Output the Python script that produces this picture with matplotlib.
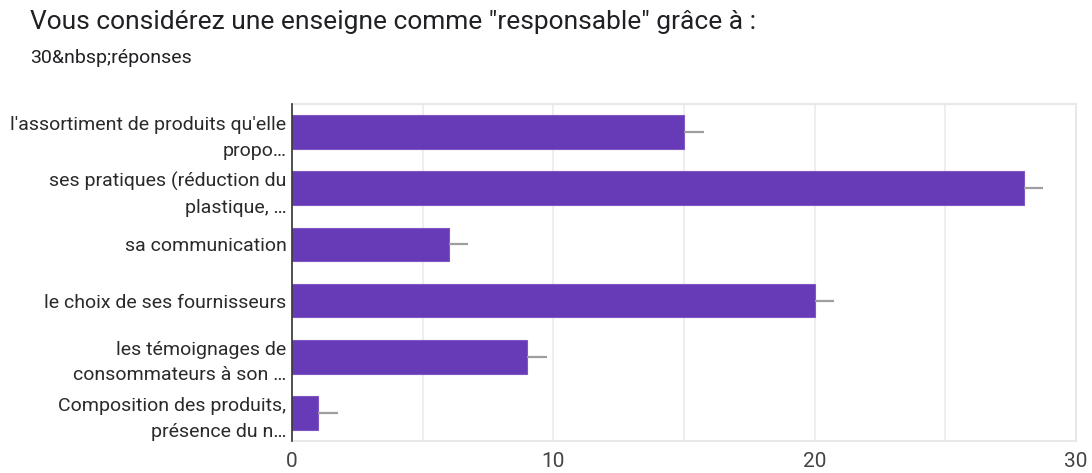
import matplotlib
matplotlib.use('Agg')
import matplotlib.pyplot as plt
from matplotlib.ticker import MultipleLocator

plt.rcParams['font.family'] = ['Roboto', 'DejaVu Sans']

title = 'Vous considérez une enseigne comme "responsable" grâce à :'
subtitle = '30&nbsp;réponses'

categories = [
    "l'assortiment de produits qu'elle\npropo…",
    "ses pratiques (réduction du\nplastique, …",
    "sa communication",
    "le choix de ses fournisseurs",
    "les témoignages de\nconsommateurs à son …",
    "Composition des produits,\nprésence du n…",
]
counts = [15, 28, 6, 20, 9, 1]
err_right = [0.75, 0.75, 0.75, 0.75, 0.75, 0.75]

barColor = '#673ab7'

fig = plt.figure(figsize=(10.92, 4.73), dpi=100)
ax = fig.add_axes([0.2674, 0.0677, 0.7179, 0.7123])

ypos = list(range(len(categories)))
ax.barh(ypos, counts, height=0.6, color=barColor, edgecolor='#7e57c2', linewidth=0.8, zorder=3,
        xerr=[[0] * len(counts), err_right], error_kw=dict(ecolor='#9e9e9e', elinewidth=1.6, capsize=0, zorder=4))

ax.set_ylim(len(categories) - 0.5, -0.5)
ax.set_xlim(0, 30)
ax.set_yticks(ypos)
ax.set_yticklabels(categories, fontsize=14, color='#2a2a2a', linespacing=1.55, ha='right')
ax.xaxis.set_major_locator(MultipleLocator(10))
ax.xaxis.set_minor_locator(MultipleLocator(5))
ax.tick_params(axis='x', which='both', length=0, labelsize=15, colors='#444444', pad=8)
ax.tick_params(axis='y', length=0, pad=4)
ax.grid(axis='x', which='both', color='#ebebeb', linewidth=1.2, zorder=0)

for side in ['top', 'right', 'bottom']:
    ax.spines[side].set_color('#e8e8e8')
    ax.spines[side].set_linewidth(1.5)
ax.spines['left'].set_color('#333333')
ax.spines['left'].set_linewidth(1.2)
ax.spines['left'].set_zorder(5)

fig.text(30 / 1092, 1 - 22 / 473, title, fontsize=19, color='#202124', va='center', ha='left')
fig.text(30 / 1092, 1 - 58 / 473, subtitle, fontsize=14, color='#202124', va='center', ha='left')

plt.savefig('out.png', dpi=100)
